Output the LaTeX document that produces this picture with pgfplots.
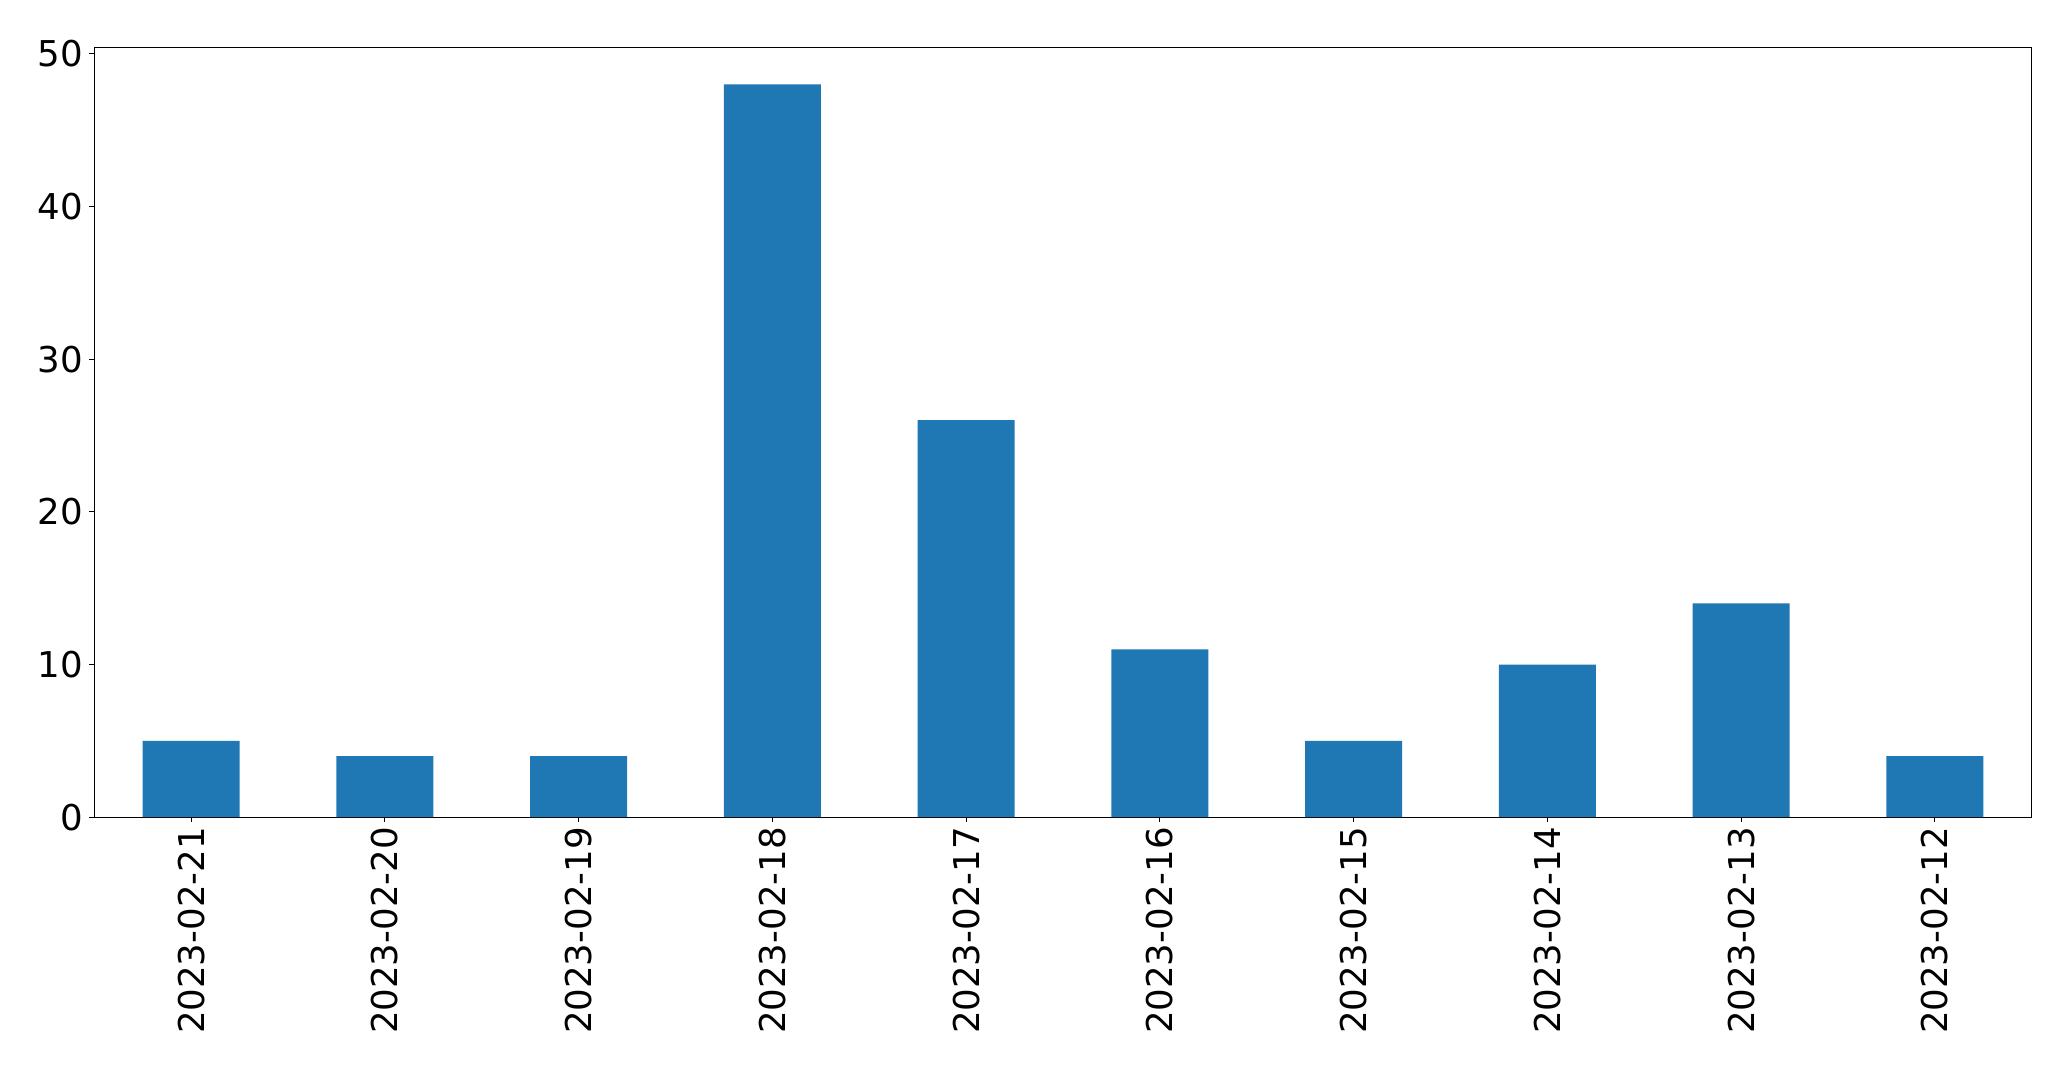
\documentclass[border=0pt]{standalone}
\usepackage{fontspec}
\setmainfont{DejaVu Sans}
\usepackage{pgfplots}
\pgfplotsset{compat=1.18}
\definecolor{barblue}{HTML}{1F77B4}
\begin{document}
\begin{tikzpicture}
\begin{axis}[
  at={(0,0)}, anchor=south west,
  scale only axis,
  width=1394.9pt, height=554.1pt,
  xmin=-0.5, xmax=9.5, ymin=0, ymax=50.4,
  xtick={0,1,2,3,4,5,6,7,8,9},
  xticklabels={2023-02-21,2023-02-20,2023-02-19,2023-02-18,2023-02-17,2023-02-16,2023-02-15,2023-02-14,2023-02-13,2023-02-12},
  ytick={0,10,20,30,40,50},
  xtick pos=bottom, ytick pos=left,
  tick align=outside,
  major tick length=3.5pt,
  every tick/.style={black, line width=0.8pt},
  axis line style={line width=0.8pt},
  tick label style={font=\fontsize{25.6}{30}\selectfont},
  /pgf/number format/assume math mode=true,
  xticklabel style={rotate=90, anchor=east, inner sep=0pt, xshift=-3.5pt},
  yticklabel style={inner sep=0pt, xshift=-4.5pt},
]
\addplot[ybar, bar width=0.5, fill=barblue, draw=none] coordinates {
(0,5) (1,4) (2,4) (3,48) (4,26) (5,11) (6,5) (7,10) (8,14) (9,4)
};
\end{axis}
\pgfresetboundingbox
\path (-67.9pt,-181.2pt) rectangle (1423.2pt,588.4pt);
\end{tikzpicture}
\end{document}
